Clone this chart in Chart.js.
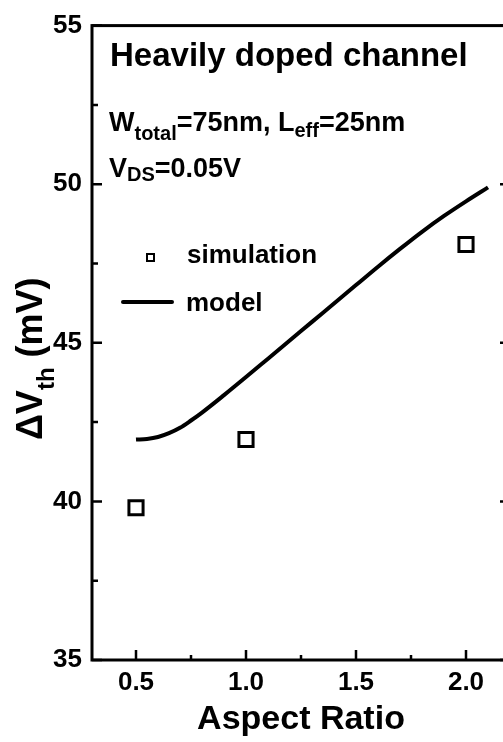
<!DOCTYPE html>
<html><head><meta charset="utf-8">
<style>
html,body{margin:0;padding:0;background:#fff;overflow:hidden;width:503px;height:742px}
#wrap{position:absolute;left:0;top:0;width:520px;height:742px}
canvas{display:block}
</style>
<script src="https://cdn.jsdelivr.net/npm/chart.js@4"></script>
</head><body><div id="wrap"><canvas id="c" width="520" height="742" style="width:520px;height:742px"></canvas></div>
<script>
// ---- data ----
const simX = [0.5, 1.0, 2.0];
const simY = [39.8, 41.95, 48.1];
const modelX = [0.5, 0.55, 0.6, 0.65, 0.7, 0.75, 0.8, 0.9, 1.0, 1.1, 1.2, 1.3, 1.4, 1.5, 1.6, 1.7, 1.8, 1.9, 2.0, 2.1];
const modelY = [41.95, 41.97, 42.03, 42.15, 42.32, 42.55, 42.8, 43.35, 43.92, 44.5, 45.08, 45.66, 46.24, 46.82, 47.4, 47.96, 48.5, 49.0, 49.46, 49.9];
const xTicks = [0.5, 1.0, 1.5, 2.0];
const xMinorTicks = [0.75, 1.25, 1.75];
const yTicks = [35, 40, 45, 50, 55];
const yMinorTicks = [37.5, 42.5, 47.5, 52.5];
const xRange = [0.3, 2.2];
const yRange = [35, 55];
const seriesNames = ['simulation', 'model'];
const xTitle = 'Aspect Ratio';

const FF = "'Liberation Sans', Arial, Helvetica, sans-serif";
Chart.defaults.font.family = FF;
Chart.defaults.color = '#000';

function font(sz){ return 'bold ' + sz + 'px ' + FF; }

// draw text with subscripts: parts = [[text, isSub, subOffset]]
function drawRich(ctx, x, y, parts, main, sub){
  let cx = x;
  for (const p of parts){
    ctx.font = font(p[1] ? sub : main);
    ctx.fillText(p[0], cx, y + (p[1] ? p[2] : 0));
    cx += ctx.measureText(p[0]).width;
  }
}

const decor = {
  id: 'decor',
  afterDraw(chart){
    const ctx = chart.ctx;
    const a = chart.chartArea;
    const xs = chart.scales.x, ys = chart.scales.y;
    ctx.save();
    ctx.strokeStyle = '#000';
    ctx.fillStyle = '#000';
    ctx.lineCap = 'butt';
    // frame
    ctx.lineWidth = 3;
    ctx.strokeRect(a.left, a.top, a.right - a.left, a.bottom - a.top);
    // ticks
    ctx.lineWidth = 2.5;
    ctx.beginPath();
    for (const v of xTicks){ const px = xs.getPixelForValue(v); ctx.moveTo(px, a.bottom); ctx.lineTo(px, a.bottom - 10); }
    for (const v of xMinorTicks){ const px = xs.getPixelForValue(v); ctx.moveTo(px, a.bottom); ctx.lineTo(px, a.bottom - 5); }
    for (const v of yTicks){ const py = ys.getPixelForValue(v); ctx.moveTo(a.left, py); ctx.lineTo(a.left + 10, py); ctx.moveTo(a.right, py); ctx.lineTo(a.right - 10, py); }
    for (const v of yMinorTicks){ const py = ys.getPixelForValue(v); ctx.moveTo(a.left, py); ctx.lineTo(a.left + 6, py); ctx.moveTo(a.right, py); ctx.lineTo(a.right - 6, py); }
    ctx.stroke();

    // annotations
    ctx.textAlign = 'left';
    ctx.textBaseline = 'alphabetic';
    ctx.font = font(33);
    ctx.fillText('Heavily doped channel', 110, 66);
    drawRich(ctx, 109, 131, [['W'], ['total', true, 9], ['=75nm, L'], ['eff', true, 6], ['=25nm']], 27, 20);
    drawRich(ctx, 109, 177, [['V'], ['DS', true, 4], ['=0.05V']], 27, 20);

    // legend
    ctx.lineWidth = 2;
    ctx.strokeRect(147, 254, 7, 7);
    ctx.lineWidth = 4;
    ctx.lineCap = 'round';
    ctx.beginPath(); ctx.moveTo(123, 302); ctx.lineTo(172, 302); ctx.stroke();
    ctx.font = font(26);
    ctx.fillText(seriesNames[0], 187, 263);
    ctx.fillText(seriesNames[1], 186, 311);

    // y title (rotated)
    ctx.save();
    ctx.translate(42, 440);
    ctx.rotate(-Math.PI / 2);
    drawRich(ctx, 0, 0, [['\u0394V'], ['th', true, 12], [' (mV)']], 36, 24);
    ctx.restore();

    ctx.restore();
  }
};

new Chart(document.getElementById('c'), {
  type: 'scatter',
  data: {
    datasets: [
      {
        label: seriesNames[0],
        data: simX.map((x, i) => ({x, y: simY[i]})),
        pointStyle: 'rect',
        pointRadius: 10,
        pointBorderWidth: 3,
        pointBorderColor: '#000',
        pointBackgroundColor: 'rgba(255,255,255,0)',
        showLine: false,
        order: 1
      },
      {
        label: seriesNames[1],
        type: 'line',
        data: modelX.map((x, i) => ({x, y: modelY[i]})),
        borderColor: '#000',
        borderWidth: 4,
        pointRadius: 0,
        cubicInterpolationMode: 'monotone',
        fill: false,
        order: 2
      }
    ]
  },
  options: {
    responsive: false,
    devicePixelRatio: 1,
    animation: false,
    events: [],
    layout: { padding: { left: 0, top: 22, right: 10, bottom: 0 }, autoPadding: false },
    plugins: { legend: { display: false }, tooltip: { enabled: false }, title: { display: false } },
    scales: {
      x: {
        type: 'linear',
        min: xRange[0], max: xRange[1],
        afterBuildTicks(s){ s.ticks = xTicks.map(v => ({value: v})); },
        afterFit(s){ s.height = 82; },
        grid: { display: false, drawTicks: false },
        border: { display: false },
        ticks: { font: { size: 26, weight: 'bold' }, color: '#000', padding: 7, maxRotation: 0, callback: v => Number(v).toFixed(1) },
        title: { display: true, text: xTitle, font: { size: 34, weight: 'bold' }, color: '#000', padding: { top: 0, bottom: 2 } }
      },
      y: {
        type: 'linear',
        min: yRange[0], max: yRange[1],
        afterBuildTicks(s){ s.ticks = yTicks.map(v => ({value: v})); },
        afterFit(s){ s.width = 92; },
        grid: { display: false, drawTicks: false },
        border: { display: false },
        ticks: { font: { size: 26, weight: 'bold' }, color: '#000', padding: 10, callback: v => String(v) }
      }
    }
  },
  plugins: [decor]
});
</script>
</body></html>
